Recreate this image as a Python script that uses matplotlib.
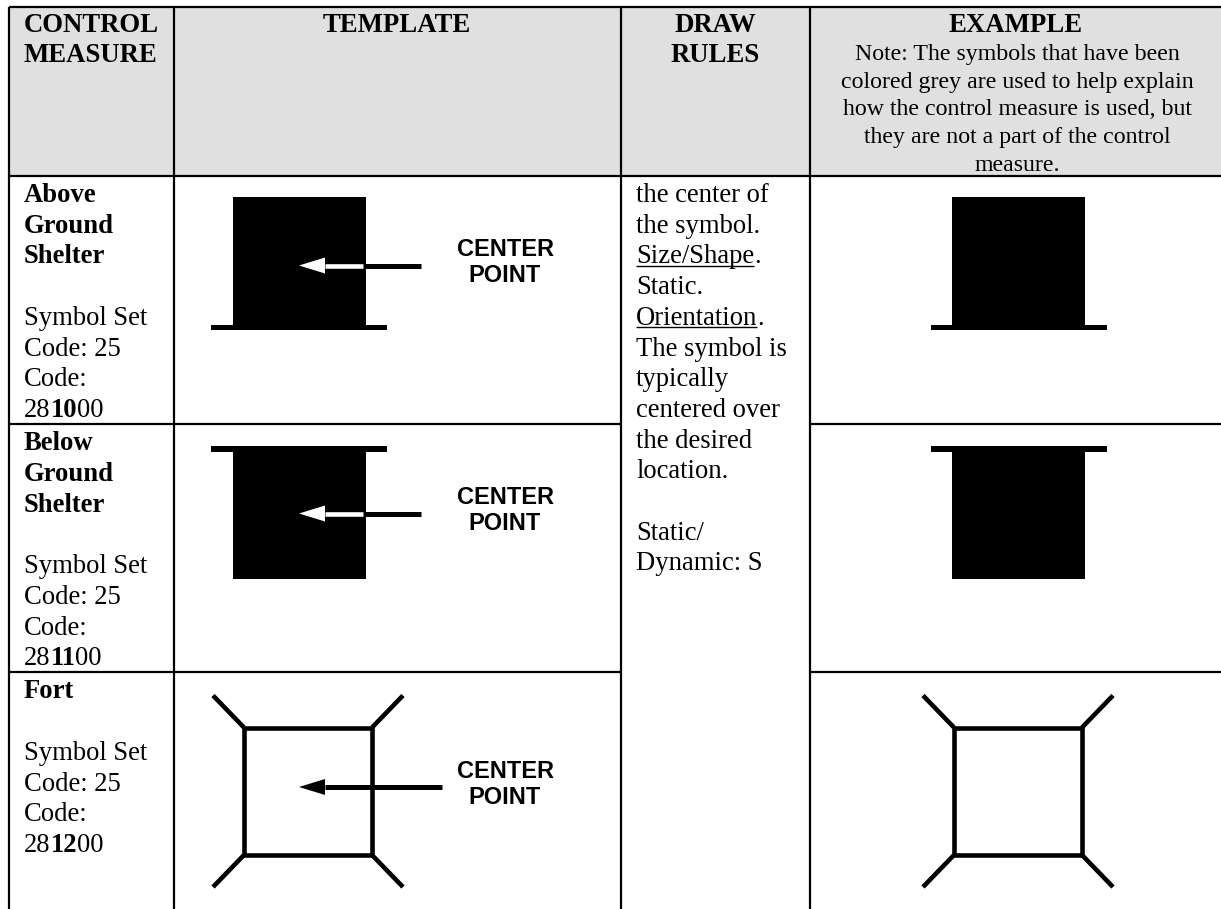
import matplotlib
matplotlib.use('Agg')
import matplotlib.pyplot as plt
from matplotlib.patches import Rectangle, Polygon

W, H = 1221, 909
SERIF = 'Liberation Serif'
SANS = 'Liberation Sans'

headers = ['CONTROL\nMEASURE', 'TEMPLATE', 'DRAW\nRULES', 'EXAMPLE']
note_lines = ['Note: The symbols that have been',
              'colored grey are used to help explain',
              'how the control measure is used, but',
              'they are not a part of the control',
              'measure.']
names = [['Above', 'Ground', 'Shelter'], ['Below', 'Ground', 'Shelter'], ['Fort']]
codes = [('28', '10', '00'), ('28', '11', '00'), ('28', '12', '00')]
symbol_set = ['Symbol Set', 'Code: 25', 'Code:']
rules = ['the center of', 'the symbol.', 'Size/Shape', 'Static.', 'Orientation',
         'The symbol is', 'typically', 'centered over', 'the desired', 'location.',
         '', 'Static/', 'Dynamic: S']
center_label = 'CENTER\nPOINT'

col_x = [8.5, 174, 621, 810, 1221]
row_y = [6.5, 175.5, 424, 672, 909]
line_h = 30.7
fs = 19.2
lw = 1.6
sym_lw = 3.3

fig = plt.figure(figsize=(W/100, H/100), dpi=100)
ax = fig.add_axes([0, 0, 1, 1])
ax.set_xlim(0, W)
ax.set_ylim(H, 0)
ax.axis('off')

ax.add_patch(Rectangle((col_x[0], row_y[0]), col_x[4]-col_x[0], row_y[1]-row_y[0], fc='#e0e0e0', ec='none'))

# grid
ax.plot([col_x[0], W], [row_y[0]]*2, 'k', lw=lw, solid_capstyle='butt')
ax.plot([col_x[0], W], [row_y[1]]*2, 'k', lw=lw, solid_capstyle='butt')
for y in row_y[2:4]:
    ax.plot([col_x[0], col_x[2]], [y, y], 'k', lw=lw, solid_capstyle='butt')
    ax.plot([col_x[3], W], [y, y], 'k', lw=lw, solid_capstyle='butt')
for x in col_x[:4]:
    ax.plot([x, x], [row_y[0], H], 'k', lw=lw, solid_capstyle='butt')

# header text
def txt(x, y, s, **kw):
    kw.setdefault('family', SERIF)
    kw.setdefault('fontsize', fs)
    kw.setdefault('va', 'baseline')
    kw.setdefault('color', 'black')
    return ax.text(x, y, s, **kw)

for (x, y), h in zip([(24, 32.5), (397, 32.5), (715, 32.5), (1016, 32.5)], headers):
    ha = 'left' if x == 24 else 'center'
    for i, part in enumerate(h.split('\n')):
        txt(x, y + i*29.5, part, ha=ha, weight='bold', fontsize=19.3)
for i, line in enumerate(note_lines):
    txt(1017, 60 + i*27.7, line, ha='center', fontsize=17.2)

fig.canvas.draw()
rend = fig.canvas.get_renderer()

def run_width(t):
    return t.get_window_extent(rend).width

# left column
for r, name in enumerate(names):
    base = row_y[r+1] + 26.5
    n = 0
    for s in name:
        txt(24, base + n*line_h, s, weight='bold')
        n += 1
    n += 1
    for s in symbol_set:
        txt(24, base + n*line_h, s)
        n += 1
    x = 24
    for s, weight in zip(codes[r], ['normal', 'bold', 'normal']):
        t = txt(x, base + n*line_h, s, weight=weight)
        x += run_width(t)

# draw rules column
for i, s in enumerate(rules):
    if not s:
        continue
    y = 202 + i*line_h
    t = txt(636, y, s)
    if s in ('Size/Shape', 'Orientation'):
        w = run_width(t)
        ax.plot([636, 636+w], [y+2.5, y+2.5], 'k', lw=1.0, solid_capstyle='butt')
        txt(636+w, y, '.')

# symbols
def shelter(cx, top, flip):
    ax.add_patch(Rectangle((cx-66.5, top), 133, 133, fc='k', ec='none'))
    by = top if flip else top+127.5
    ax.add_patch(Rectangle((cx-88, by), 176, 5.5, fc='k', ec='none'))

def fort(cx, top):
    l, r, t, b = cx-64, cx+64, top+35.5, top+163
    ax.add_patch(Rectangle((l, t), r-l, b-t, fc='none', ec='k', lw=sym_lw))
    for xx, yy, dx, dy in [(l, t, -1, -1), (r, t, 1, -1), (l, b, -1, 1), (r, b, 1, 1)]:
        ax.plot([xx, xx+dx*31], [yy, yy+dy*32], 'k', lw=sym_lw, solid_capstyle='butt')

def pointer(y, x_end, white):
    ax.plot([360 if white else 325, x_end], [y, y], 'k', lw=sym_lw+0.3, solid_capstyle='butt')
    if white:
        ax.plot([325, 363], [y, y], color='white', lw=sym_lw, solid_capstyle='butt')
    ax.add_patch(Polygon([(299, y), (325, y-8), (325, y+8)], fc='white' if white else 'k', ec='none'))

shelter(299, 197, False)
shelter(299, 446, True)
fort(308, 692)
shelter(1018.5, 197, False)
shelter(1018.5, 446, True)
fort(1018, 692)

pointer(265.5, 421, True)
pointer(513.5, 421, True)
pointer(787, 442, False)
for yc, xc in [(256, 505), (504, 505), (778, 505)]:
    for i, part in enumerate(center_label.split('\n')):
        txt(xc, yc + i*26.5, part, ha='center', family=SANS, weight='bold', fontsize=17)

fig.savefig('out.png', dpi=100)
